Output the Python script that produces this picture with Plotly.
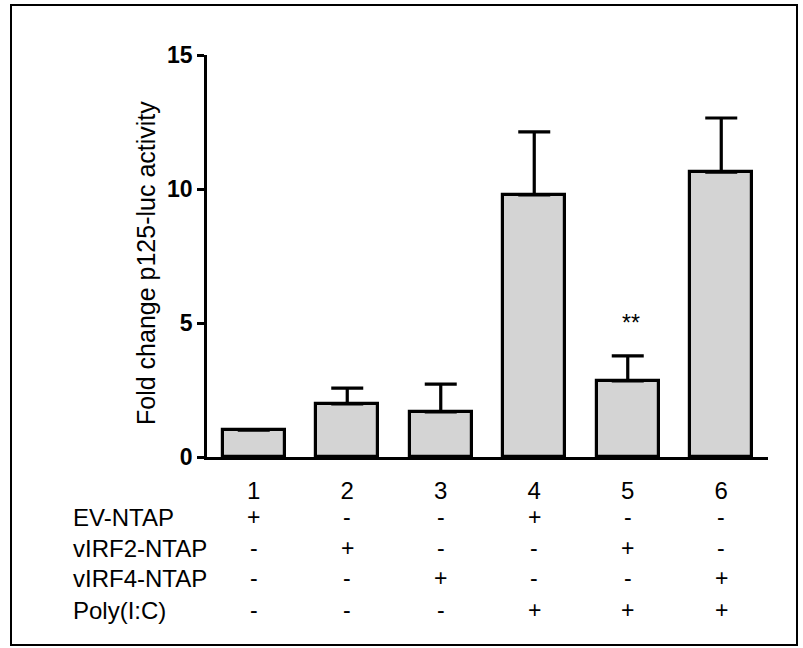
import plotly.graph_objects as go

lanes = ["1", "2", "3", "4", "5", "6"]
fold_change = [1.0, 1.98, 1.68, 9.78, 2.84, 10.63]
sem = [0.0, 0.59, 1.04, 2.35, 0.93, 2.02]
row_labels = ["EV-NTAP", "vIRF2-NTAP", "vIRF4-NTAP", "Poly(I:C)"]
row_signs = [
    ["+", "-", "-", "+", "-", "-"],
    ["-", "+", "-", "-", "+", "-"],
    ["-", "-", "+", "-", "-", "+"],
    ["-", "-", "-", "+", "+", "+"],
]
significance = {"5": "**"}
y_ticks = [0, 5, 10, 15]

FONT = "Liberation Sans, Arial, sans-serif"
xpos = [int(l) for l in lanes]

fig = go.Figure()
fig.add_trace(go.Bar(
    x=xpos, y=fold_change, width=0.66,
    marker=dict(color="#d4d4d4", line=dict(color="black", width=3.2)),
    error_y=dict(type="data", array=sem, arrayminus=[0]*len(sem), symmetric=False,
                 color="black", thickness=3.2, width=16),
    showlegend=False, hoverinfo="skip",
))

W, H = 803, 648
PL, PR, PT, PB = 207, 768, 55, 457   # plot area in window pixels
L, T, R, B = PL, PT, W - PR, H - PB
pw, ph = PR - PL, PB - PT

def px_x(px):
    return (px - PL) / pw

def px_y(py):
    return (PB - py) / ph

annotations = []
annotations.append(dict(text="Fold change p125-luc activity", textangle=-90,
                        x=px_x(146), y=px_y(263), xref="paper", yref="paper",
                        showarrow=False, font=dict(family=FONT, size=25, color="black"),
                        xanchor="center", yanchor="middle"))
for lane, s in significance.items():
    idx = lanes.index(lane)
    annotations.append(dict(text=s, x=xpos[idx] + 0.03, y=5.0, xref="x", yref="y",
                            showarrow=False, font=dict(family=FONT, size=23, color="black"),
                            xanchor="center", yanchor="middle"))
row_y = [517, 548, 578, 610]
for r, (lab, signs) in enumerate(zip(row_labels, row_signs)):
    annotations.append(dict(text=lab, x=px_x(71), y=px_y(row_y[r]), xref="paper", yref="paper",
                            showarrow=False, font=dict(family=FONT, size=24, color="black"),
                            xanchor="left", yanchor="middle"))
    for i, s in enumerate(signs):
        annotations.append(dict(text=s, x=xpos[i], y=px_y(row_y[r]), xref="x", yref="paper",
                                showarrow=False, font=dict(family=FONT, size=23, color="black"),
                                xanchor="center", yanchor="middle"))

shapes = [dict(type="rect", xref="paper", yref="paper",
               x0=px_x(11), x1=px_x(797), y0=px_y(645), y1=px_y(5),
               line=dict(color="black", width=2), fillcolor="rgba(0,0,0,0)", layer="below")]

fig.update_layout(
    width=W, height=H,
    margin=dict(l=L, r=R, t=T, b=B, pad=0),
    paper_bgcolor="white", plot_bgcolor="white",
    annotations=annotations, shapes=shapes,
    bargap=0,
    xaxis=dict(range=[0.5, 6.5], tickmode="array", tickvals=xpos, ticktext=lanes,
               ticks="", showgrid=False, zeroline=False, showline=True,
               linecolor="black", linewidth=2.5,
               tickfont=dict(family=FONT, size=24, color="black"),
               ticklabelstandoff=10),
    yaxis=dict(range=[0, 15], tickmode="array", tickvals=y_ticks,
               ticks="outside", ticklen=7, tickwidth=2.5, tickcolor="black",
               showgrid=False, zeroline=False, showline=True,
               linecolor="black", linewidth=2.5,
               tickfont=dict(family=FONT, size=23, color="black", weight="bold")),
)

fig.write_html(
    "out.html",
    config={"displayModeBar": False},
    post_script="document.body.style.margin='0';document.body.style.overflow='hidden';",
)
